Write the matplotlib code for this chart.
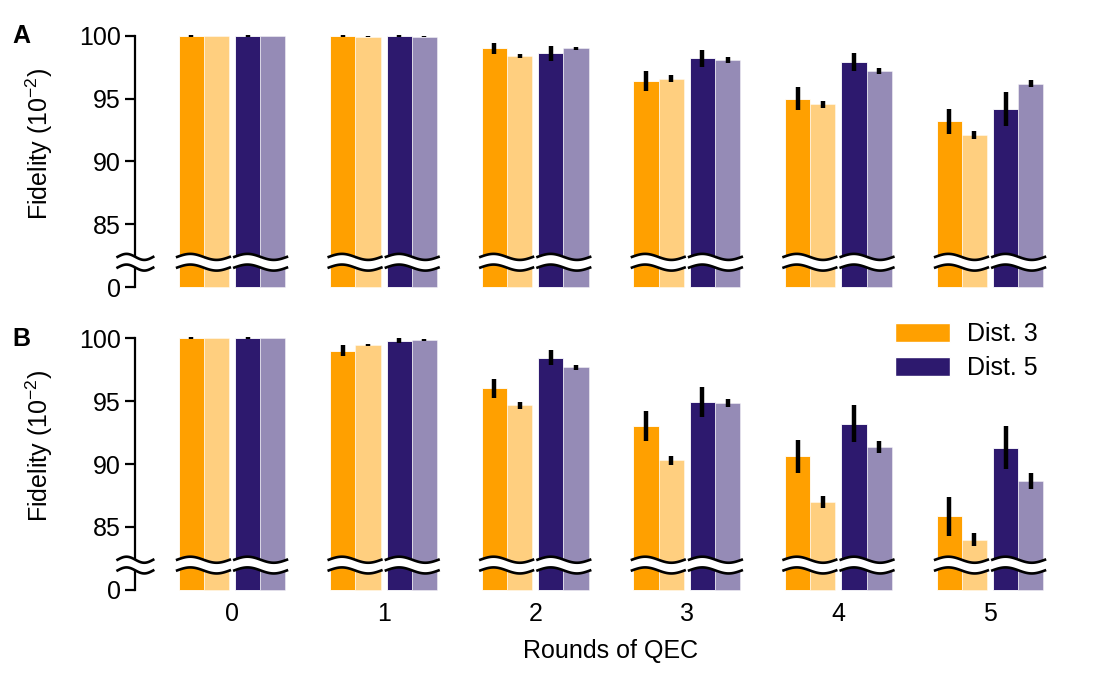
import numpy as np
import matplotlib
matplotlib.use("Agg")
import matplotlib.pyplot as plt
from matplotlib.patches import Patch

plt.rcParams['font.family'] = ['Liberation Sans', 'DejaVu Sans']
plt.rcParams['mathtext.default'] = 'regular'

rounds = [0, 1, 2, 3, 4, 5]

# panel A (fidelity in 1e-2), dark = experiment, light = simulation
a_d3 = [100.0, 100.0, 99.0, 96.4, 95.0, 93.2]
a_d3_err = [0.05, 0.05, 0.45, 0.82, 0.9, 1.0]
a_d3_sim = [100.0, 99.95, 98.4, 96.6, 94.55, 92.1]
a_d3_sim_err = [0.02, 0.02, 0.18, 0.25, 0.28, 0.35]
a_d5 = [100.0, 100.0, 98.6, 98.2, 97.9, 94.2]
a_d5_err = [0.05, 0.05, 0.57, 0.69, 0.7, 1.35]
a_d5_sim = [100.0, 99.95, 99.0, 98.1, 97.2, 96.2]
a_d5_sim_err = [0.02, 0.02, 0.15, 0.22, 0.25, 0.3]

# panel B
b_d3 = [100.0, 99.0, 96.0, 93.0, 90.6, 85.85]
b_d3_err = [0.05, 0.45, 0.75, 1.2, 1.3, 1.55]
b_d3_sim = [100.0, 99.45, 94.65, 90.3, 86.95, 84.0]
b_d3_sim_err = [0.02, 0.05, 0.28, 0.35, 0.48, 0.5]
b_d5 = [100.0, 99.8, 98.45, 94.9, 93.2, 91.3]
b_d5_err = [0.05, 0.2, 0.6, 1.2, 1.47, 1.72]
b_d5_sim = [100.0, 99.85, 97.7, 94.85, 91.35, 88.65]
b_d5_sim_err = [0.02, 0.05, 0.2, 0.3, 0.5, 0.63]

ytick_vals = [80, 85, 90, 95, 100]
ytick_labels = ['0', '85', '90', '95', '100']

orange = '#ffa000'
purple = '#2d196e'
base = 80
w = 0.166
gap = 0.02
fs = 18
xl, xr = -0.64, 5.38


def wave(x0, x1, yc, n=60):
    xs = np.linspace(x0, x1, n)
    ys = yc + 0.24 * np.sin(2 * np.pi * (xs - x0) / (x1 - x0))
    return xs, ys


def draw_break(ax, x0, x1):
    xs, lo = wave(x0, x1, 81.55)
    _, hi = wave(x0, x1, 82.4)
    ax.fill_between(xs, lo, hi, color='white', zorder=5, clip_on=False, lw=0)
    ax.plot(xs, lo, color='black', lw=1.9, zorder=6, clip_on=False)
    ax.plot(xs, hi, color='black', lw=1.9, zorder=6, clip_on=False)


def panel(ax, d3, d3e, d3s, d3se, d5, d5e, d5s, d5se):
    x = np.array(rounds, dtype=float)
    series = [
        (x - gap - 1.5 * w, d3, d3e, orange, 1.0),
        (x - gap - 0.5 * w, d3s, d3se, orange, 0.5),
        (x + gap + 0.5 * w, d5, d5e, purple, 1.0),
        (x + gap + 1.5 * w, d5s, d5se, purple, 0.5),
    ]
    for xp, v, e, c, al in series:
        v = np.array(v)
        ax.bar(xp, v - base, bottom=base, width=w, color=c, alpha=al,
               edgecolor='white', linewidth=0.6, zorder=2, clip_on=False)
        ax.errorbar(xp, v, yerr=e, fmt='none', ecolor='black', elinewidth=3.2,
                    capsize=0, zorder=4, clip_on=False)
    for xc in x:
        draw_break(ax, xc - gap - 2 * w - 0.01, xc - gap + 0.005)
        draw_break(ax, xc + gap - 0.005, xc + gap + 2 * w + 0.01)
    draw_break(ax, xl - 0.115, xl + 0.12)
    ax.set_xlim(xl, xr)
    ax.set_ylim(80, 100)
    ax.set_yticks(ytick_vals)
    ax.set_yticklabels(ytick_labels)
    for s in ['top', 'right', 'bottom']:
        ax.spines[s].set_visible(False)
    ax.spines['left'].set_linewidth(1.6)
    ax.tick_params(axis='y', length=7, width=1.6, labelsize=fs, pad=3)
    ax.tick_params(axis='x', length=0, labelsize=fs, pad=9)
    ax.set_xticks(rounds)
    ax.set_ylabel('Fidelity (10$^{-2}$)', fontsize=fs)
    ax.yaxis.set_label_coords(-0.088, 0.57)


fig = plt.figure(figsize=(11.13, 6.9), dpi=100)
ax_a = fig.add_axes([0.1213, 0.584, 0.82, 0.364])
ax_b = fig.add_axes([0.1213, 0.145, 0.82, 0.365])

panel(ax_a, a_d3, a_d3_err, a_d3_sim, a_d3_sim_err, a_d5, a_d5_err, a_d5_sim, a_d5_sim_err)
panel(ax_b, b_d3, b_d3_err, b_d3_sim, b_d3_sim_err, b_d5, b_d5_err, b_d5_sim, b_d5_sim_err)
ax_a.set_xticklabels([])
ax_b.set_xlabel('Rounds of QEC', fontsize=fs)
# centre the label under the tick range, not the whole axes
mid = (np.mean(rounds) - xl) / (xr - xl)
ax_b.xaxis.set_label_coords(mid, -0.195)

handles = [Patch(facecolor=orange, edgecolor='white', label='Dist. 3'),
           Patch(facecolor=purple, edgecolor='white', label='Dist. 5')]
fig.legend(handles=handles, loc='upper left', bbox_to_anchor=(0.804, 1 - 322 / 690),
           frameon=False, fontsize=fs, handlelength=2.2, handleheight=0.8,
           labelspacing=0.4, borderpad=0, borderaxespad=0, handletextpad=0.7)

fig.text(0.011, 0.948, 'A', fontsize=fs, fontweight='bold', va='center')
fig.text(0.011, 0.508, 'B', fontsize=fs, fontweight='bold', va='center')

fig.savefig('out.png', dpi=100)
